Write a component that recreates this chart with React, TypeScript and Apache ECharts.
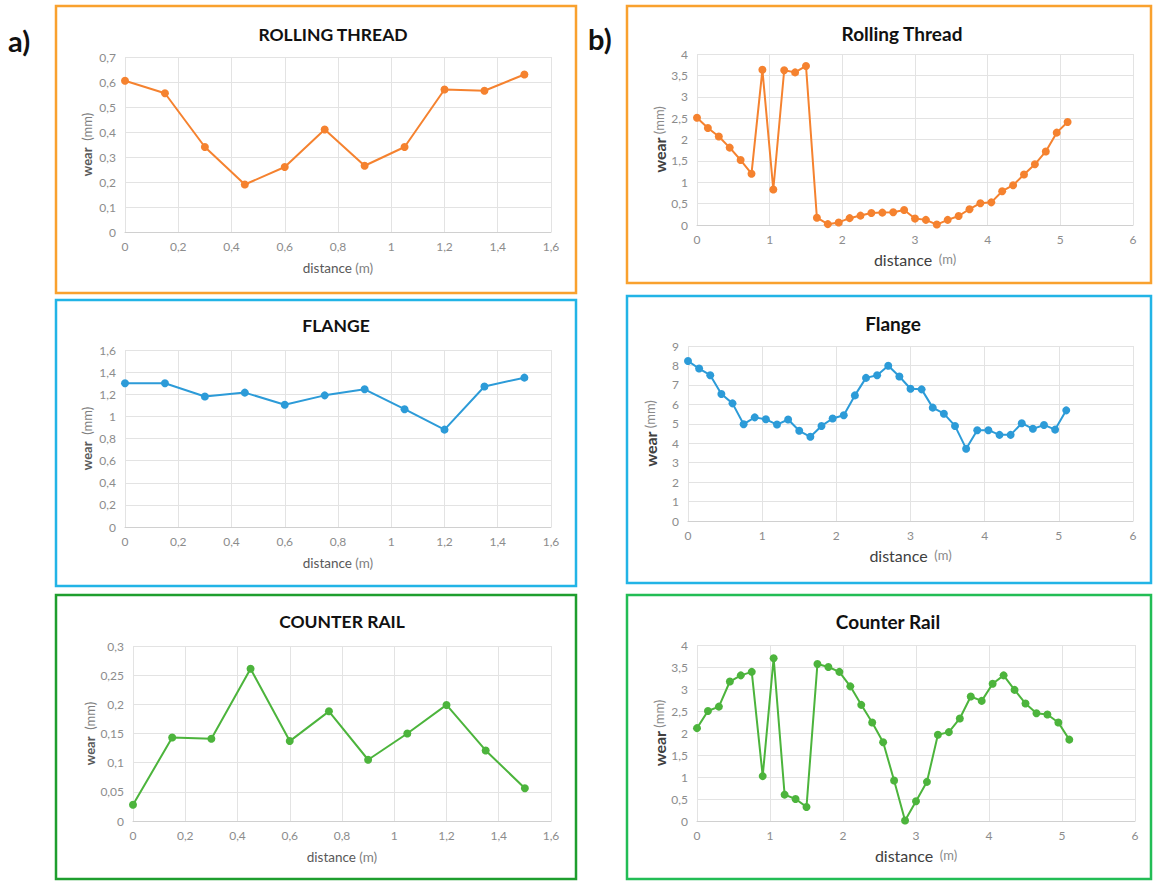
import React, { useEffect, useRef } from "react";
import * as echarts from "echarts";

const distA = [0, 0.15, 0.3, 0.45, 0.6, 0.75, 0.9, 1.05, 1.2, 1.35, 1.5];
const rollingA = [0.605, 0.555, 0.34, 0.19, 0.26, 0.41, 0.265, 0.34, 0.57, 0.565, 0.63];
const flangeA = [1.3, 1.3, 1.18, 1.215, 1.105, 1.19, 1.245, 1.065, 0.88, 1.27, 1.35];
const counterA = [0.028, 0.143, 0.141, 0.261, 0.137, 0.188, 0.105, 0.15, 0.199, 0.121, 0.056];

const distB = [
  0, 0.15, 0.3, 0.45, 0.6, 0.75, 0.9, 1.05, 1.2, 1.35, 1.5, 1.65, 1.8, 1.95, 2.1, 2.25, 2.4, 2.55,
  2.7, 2.85, 3, 3.15, 3.3, 3.45, 3.6, 3.75, 3.9, 4.05, 4.2, 4.35, 4.5, 4.65, 4.8, 4.95, 5.1,
];
const rollingB = [
  2.51, 2.27, 2.07, 1.81, 1.52, 1.2, 3.63, 0.83, 3.62, 3.57, 3.72, 0.17, 0.02, 0.06, 0.16, 0.22,
  0.28, 0.29, 0.3, 0.35, 0.15, 0.12, 0.01, 0.12, 0.21, 0.37, 0.51, 0.53, 0.79, 0.93, 1.18, 1.42,
  1.72, 2.16, 2.41,
];
const flangeB = [
  8.23, 7.84, 7.5, 6.53, 6.05, 4.98, 5.33, 5.23, 4.96, 5.22, 4.64, 4.33, 4.89, 5.27, 5.44, 6.46,
  7.36, 7.5, 7.98, 7.43, 6.8, 6.77, 5.83, 5.52, 4.89, 3.72, 4.67, 4.67, 4.43, 4.43, 5.03, 4.74,
  4.94, 4.7, 5.69,
];
const counterB = [
  2.11, 2.5, 2.6, 3.17, 3.31, 3.39, 1.02, 3.7, 0.6, 0.5, 0.32, 3.57, 3.5, 3.39, 3.06, 2.64, 2.24,
  1.79, 0.92, 0.01, 0.45, 0.89, 1.96, 2.02, 2.33, 2.83, 2.73, 3.12, 3.31, 2.98, 2.67, 2.45, 2.42,
  2.24, 1.85,
];

const titles = ["ROLLING THREAD", "FLANGE", "COUNTER RAIL", "Rolling Thread", "Flange", "Counter Rail"];

const ORANGE = "#F5822F";
const BLUE = "#2C9BD8";
const GREEN = "#4CB43C";
const FONT = "Lato, 'Open Sans', sans-serif";

const fmt = (v: number) => String(+v.toFixed(2)).replace(".", ",");

export default function App() {
  const ref = useRef<HTMLDivElement>(null);
  useEffect(() => {
    if (!ref.current) return;
    const chart = echarts.init(ref.current, undefined, { renderer: "svg" });

    const panels = [
      { grid: { left: 125, top: 57, width: 426, height: 175 }, x: [0, 1.6, 0.2], y: [0, 0.7, 0.1], dist: distA, vals: rollingA, color: ORANGE, big: false, title: [333, 34] },
      { grid: { left: 125, top: 350, width: 426, height: 177 }, x: [0, 1.6, 0.2], y: [0, 1.6, 0.2], dist: distA, vals: flangeA, color: BLUE, big: false, title: [336, 325] },
      { grid: { left: 133, top: 646, width: 418, height: 175 }, x: [0, 1.6, 0.2], y: [0, 0.3, 0.05], dist: distA, vals: counterA, color: GREEN, big: false, title: [342, 621] },
      { grid: { left: 697, top: 54, width: 436, height: 171 }, x: [0, 6, 1], y: [0, 4, 0.5], dist: distB, vals: rollingB, color: ORANGE, big: true, title: [902, 33] },
      { grid: { left: 688, top: 346, width: 445, height: 175 }, x: [0, 6, 1], y: [0, 9, 1], dist: distB, vals: flangeB, color: BLUE, big: true, title: [893, 323] },
      { grid: { left: 697, top: 645, width: 438, height: 176 }, x: [0, 6, 1], y: [0, 4, 0.5], dist: distB, vals: counterB, color: GREEN, big: true, title: [888, 621] },
    ];

    const borders = [
      { x: 56, y: 6, w: 520, h: 287, c: "#F9A12E" },
      { x: 56, y: 300, w: 520, h: 286, c: "#22B4E6" },
      { x: 56, y: 595, w: 520, h: 284, c: "#1E9E2E" },
      { x: 627, y: 6, w: 524, h: 277, c: "#F9A12E" },
      { x: 627, y: 296, w: 524, h: 287, c: "#22B4E6" },
      { x: 627, y: 595, w: 524, h: 284, c: "#22BD55" },
    ];

    const yRichA = {
      b: { fontFamily: FONT, fontSize: 13, fontWeight: "bold", color: "#595959" },
      n: { fontFamily: FONT, fontSize: 13, color: "#7f7f7f" },
    };
    const yRichB = {
      b: { fontFamily: FONT, fontSize: 16, fontWeight: "bold", color: "#404040" },
      n: { fontFamily: FONT, fontSize: 13, color: "#8a8a8a" },
    };
    const xRichA = {
      b: { fontFamily: FONT, fontSize: 13.5, color: "#595959" },
      n: { fontFamily: FONT, fontSize: 13.5, color: "#7f7f7f" },
    };
    const xRichB = {
      b: { fontFamily: FONT, fontSize: 16, color: "#404040" },
      n: { fontFamily: FONT, fontSize: 13, color: "#8a8a8a" },
    };

    const option: any = {
      animation: false,
      backgroundColor: "#ffffff",
      grid: panels.map((p) => ({ ...p.grid, containLabel: false })),
      xAxis: panels.map((p, i) => ({
        type: "value",
        gridIndex: i,
        min: p.x[0],
        max: p.x[1],
        interval: p.x[2],
        name: p.big ? "{b|distance}  {n|(m)}" : "{b|distance} {n|(m)}",
        nameLocation: "middle",
        nameGap: p.big ? 26 : 29,
        nameTextStyle: { rich: p.big ? xRichB : xRichA },
        axisLine: { show: true, lineStyle: { color: "#D0D0D0", width: 1 } },
        axisTick: { show: false },
        splitLine: { show: true, lineStyle: { color: "#E3E3E3", width: 1 } },
        axisLabel: { formatter: fmt, color: "#8C8C8C", fontSize: 12, fontFamily: FONT, margin: 8 },
      })),
      yAxis: panels.map((p, i) => ({
        type: "value",
        gridIndex: i,
        min: p.y[0],
        max: p.y[1],
        interval: p.y[2],
        name: p.big ? "{b|wear} {n|(mm)}" : "{b|wear}  {n|(mm)}",
        nameLocation: "middle",
        nameGap: p.big ? 30 : 32,
        nameRotate: 90,
        nameTextStyle: { rich: p.big ? yRichB : yRichA },
        axisLine: { show: false },
        axisTick: { show: false },
        splitLine: { show: true, lineStyle: { color: "#E3E3E3", width: 1 } },
        axisLabel: { formatter: fmt, color: "#8C8C8C", fontSize: 12, fontFamily: FONT, margin: 9 },
      })),
      series: panels.map((p, i) => ({
        type: "line",
        xAxisIndex: i,
        yAxisIndex: i,
        data: p.dist.map((d, k) => [d, p.vals[k]]),
        symbol: "circle",
        symbolSize: 8,
        showSymbol: true,
        lineStyle: { color: p.color, width: 2 },
        itemStyle: { color: p.color },
        z: 3,
      })),
      graphic: [
        ...borders.map((b) => ({
          type: "rect",
          shape: { x: b.x, y: b.y, width: b.w, height: b.h },
          style: { fill: "none", stroke: b.c, lineWidth: 2.5 },
          silent: true,
        })),
        ...panels.map((p, i) => ({
          type: "text",
          x: p.title[0],
          y: p.title[1],
          style: {
            text: titles[i],
            fontFamily: FONT,
            fontSize: p.big ? 19 : 17.5,
            fontWeight: "bold",
            fill: "#111111",
            align: "center",
            verticalAlign: "middle",
          },
        })),
        {
          type: "text",
          x: 8,
          y: 40,
          style: { text: "a)", fontFamily: FONT, fontSize: 29, fontWeight: "bold", fill: "#111111", verticalAlign: "middle" },
        },
        {
          type: "text",
          x: 588,
          y: 38,
          style: { text: "b)", fontFamily: FONT, fontSize: 29, fontWeight: "bold", fill: "#111111", verticalAlign: "middle" },
        },
      ],
    };
    chart.setOption(option);
    return () => chart.dispose();
  }, []);
  return (
    <div
      ref={ref}
      style={{ position: "fixed", left: 0, top: 0, width: 1153, height: 881, background: "#fff" }}
    />
  );
}
